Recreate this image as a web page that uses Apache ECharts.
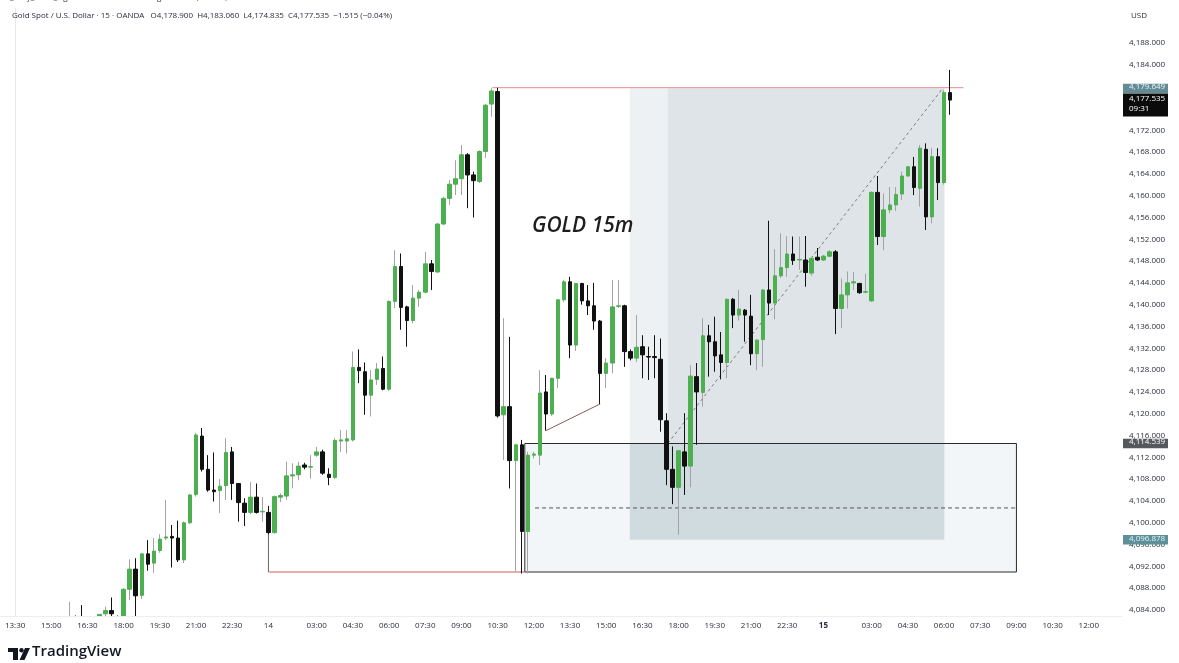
<!DOCTYPE html>
<html><head><meta charset="utf-8">
<script src="https://cdn.jsdelivr.net/npm/echarts@6/dist/echarts.min.js"></script>
<style>html,body{margin:0;padding:0;background:#fff}#c{width:1179px;height:663px}</style>
</head><body><div id="c"></div>
<script>
// ---------- DATA ----------
const firstBar = 9; // bar index of the first candle (bar 0 = 13:30 on Oct 13)
const opens = [4080.5,4082.5,4080.5,4079.8,4081.2,4080.0,4083.3,4083.9,4082.8,4082.5,4087.8,4091.5,4086.7,4094.3,4092.6,4094.9,4097.2,4097.5,4097.2,4093.2,4100.0,4105.2,4115.9,4109.8,4106.0,4105.9,4106.8,4113.0,4107.2,4103.6,4101.9,4104.7,4102.0,4101.9,4098.2,4104.7,4104.9,4108.6,4108.8,4110.6,4110.2,4112.4,4113.0,4108.9,4108.3,4115.0,4115.0,4115.2,4128.5,4127.7,4123.4,4126.3,4128.3,4124.5,4140.6,4147.0,4139.6,4137.1,4141.2,4142.3,4147.5,4146.0,4154.8,4159.5,4162.1,4163.1,4167.5,4163.8,4162.6,4168.1,4176.8,4179.1,4119.8,4121.3,4111.4,4114.3,4098.4,4112.4,4112.4,4124.0,4119.95,4126.5,4140.9,4144.2,4132.6,4143.9,4140.7,4139.8,4137.0,4127.4,4129.3,4139.7,4139.8,4131.4,4130.2,4132.3,4130.5,4130.5,4130.0,4118.7,4109.8,4106.5,4113.0,4110.4,4126.8,4123.9,4134.3,4133.2,4130.8,4129.4,4141.0,4138.1,4139.0,4137.9,4131.0,4133.6,4142.7,4140.3,4145.3,4146.8,4149.3,4148.2,4148.2,4145.8,4148.7,4148.2,4148.9,4149.7,4139.3,4141.8,4144.0,4143.9,4142.3,4140.7,4160.6,4152.5,4157.4,4158.3,4160.3,4163.6,4165.3,4161.35,4168.5,4156.1,4167.15,4162.4,4178.9];
const highs = [4085.5,4083.0,4084.9,4082.0,4082.6,4082.8,4084.6,4086.3,4083.0,4088.0,4093.3,4093.5,4094.5,4096.8,4097.2,4097.9,4104.2,4099.6,4100.4,4100.2,4105.3,4116.5,4117.4,4112.4,4112.9,4108.0,4115.5,4113.9,4107.3,4104.5,4107.5,4107.2,4104.7,4103.1,4105.0,4105.4,4111.2,4110.9,4111.2,4111.0,4112.4,4113.9,4113.4,4110.0,4115.5,4117.0,4117.0,4131.4,4131.8,4129.4,4128.0,4129.3,4130.5,4140.8,4150.0,4149.4,4139.8,4143.6,4142.7,4149.7,4148.2,4155.0,4159.8,4162.9,4166.5,4169.3,4167.8,4164.4,4168.3,4176.8,4179.7,4179.8,4137.5,4134.1,4114.5,4115.2,4113.0,4113.0,4128.0,4127.1,4126.6,4141.0,4144.5,4145.1,4143.9,4144.0,4143.6,4144.0,4137.2,4130.2,4144.5,4144.5,4140.0,4131.8,4138.1,4134.4,4132.3,4134.4,4133.8,4120.1,4114.0,4113.4,4120.1,4128.9,4129.3,4137.5,4136.3,4137.8,4135.0,4141.1,4141.2,4142.7,4139.2,4141.8,4133.7,4142.9,4155.4,4150.2,4153.1,4152.6,4152.5,4152.5,4152.6,4148.8,4150.4,4149.1,4150.0,4150.0,4144.8,4146.1,4146.0,4144.0,4145.7,4160.8,4163.6,4160.4,4161.6,4161.6,4164.4,4165.4,4167.1,4169.3,4169.6,4168.7,4168.7,4179.4,4183.06];
const lows = [4079.5,4079.0,4078.5,4078.0,4079.2,4079.0,4082.5,4081.0,4080.2,4081.5,4085.8,4082.5,4086.0,4091.2,4090.8,4094.5,4096.8,4091.8,4092.8,4092.6,4099.8,4104.8,4109.4,4105.7,4103.9,4101.8,4104.2,4104.2,4100.2,4099.4,4101.6,4101.7,4100.2,4097.9,4098.0,4103.8,4104.2,4106.3,4107.8,4109.8,4108.1,4112.1,4108.8,4106.9,4108.0,4113.0,4112.7,4114.9,4125.6,4119.8,4119.5,4125.3,4124.3,4124.2,4139.4,4135.4,4132.3,4136.6,4139.6,4142.1,4142.7,4145.8,4154.6,4158.3,4160.1,4160.1,4157.7,4156.0,4162.3,4166.9,4174.5,4119.3,4111.5,4106.3,4091.0,4090.7,4090.7,4111.8,4110.6,4116.9,4119.6,4124.7,4140.5,4130.2,4131.5,4140.0,4138.1,4135.4,4121.8,4124.7,4127.4,4139.4,4128.6,4129.8,4129.5,4126.5,4126.2,4126.5,4116.7,4106.9,4103.4,4097.8,4105.1,4106.5,4114.3,4121.3,4126.8,4127.7,4126.3,4126.5,4135.7,4137.1,4133.2,4128.9,4128.0,4128.6,4138.1,4137.3,4144.9,4145.1,4147.3,4146.4,4143.3,4145.3,4148.0,4148.0,4148.7,4134.6,4135.7,4139.3,4142.7,4142.0,4142.1,4140.5,4150.95,4150.0,4156.8,4157.2,4159.2,4163.5,4160.1,4158.0,4153.7,4154.9,4159.2,4162.0,4174.835];
const closes = [4082.5,4080.5,4079.8,4081.2,4080.0,4083.2,4083.9,4083.3,4081.0,4087.8,4091.5,4086.6,4094.3,4092.4,4094.8,4097.0,4097.4,4097.2,4093.2,4100.0,4105.1,4116.1,4109.8,4106.0,4105.7,4106.7,4112.9,4107.2,4103.7,4101.9,4104.7,4101.9,4102.1,4098.2,4104.8,4105.0,4108.6,4108.8,4110.4,4110.2,4110.3,4113.0,4109.1,4108.3,4115.1,4115.2,4115.4,4128.5,4127.9,4123.4,4126.2,4128.2,4124.5,4140.6,4147.0,4139.5,4137.1,4141.2,4142.3,4147.5,4146.1,4154.8,4159.5,4162.1,4163.1,4167.5,4163.8,4162.75,4168.1,4176.6,4179.2,4119.6,4121.3,4111.4,4114.3,4098.4,4112.4,4112.6,4123.8,4119.95,4126.5,4140.9,4144.2,4132.6,4143.9,4140.7,4139.8,4137.0,4127.4,4129.3,4139.6,4139.8,4131.4,4130.2,4132.2,4130.8,4130.4,4130.3,4118.9,4109.8,4106.5,4113.2,4110.4,4126.9,4124.0,4134.3,4133.2,4130.6,4129.4,4141.0,4138.1,4139.2,4138.1,4131.0,4133.5,4142.7,4140.3,4145.3,4146.8,4149.3,4148.1,4148.3,4145.9,4148.5,4148.2,4148.9,4149.7,4139.3,4141.8,4144.0,4144.2,4142.2,4142.4,4160.6,4152.5,4157.4,4158.3,4160.2,4163.6,4165.3,4161.5,4168.7,4156.1,4167.15,4162.4,4178.9,4177.535];

const yTickValues = [4084,4088,4092,4096,4100,4104,4108,4112,4116,4120,4124,4128,4132,4136,4140,4144,4148,4152,4156,4160,4164,4168,4172,4176,4180,4184,4188];
const xTickLabels = ['13:30','15:00','16:30','18:00','19:30','21:00','22:30','14','03:00','04:30','06:00','07:30','09:00','10:30','12:00','13:30','15:00','16:30','18:00','19:30','21:00','22:30','15','03:00','04:30','06:00','07:30','09:00','10:30','12:00'];
const boldTickLabels = ['15'];

// drawings (bar index, price)
const longPos = { startBar: 101.9, fillBar: 108.2, endBar: 154.05, target: 4179.649, entry: 4114.539, stop: 4096.878 };
const box = { startBar: 84.5, endBar: 166.0, top: 4114.539, bottom: 4090.97, mid: 4102.72, midStart: 86.2 };
const topLine = { startBar: 79.1, endBar: 157.2, price: 4179.8 };
const lowLine = { bar: 42, endBar: 84.5, from: 4098.2, price: 4090.97 };
const trendLine = [[88, 4116.9], [97, 4121.8]];
const tagValues = [4179.649, 4177.535, 4114.539, 4096.878];
const tagTexts = ['4,179.649', '4,177.535', '4,114.539', '4,096.878'];
const countdown = '09:31';
const headerText = 'Gold Spot / U.S. Dollar · 15 · OANDA   O4,178.900  H4,183.060  L4,174.835  C4,177.535  −1.515 (−0.04%)';
const creditText = 'i.t_daily_forex_signals created with TradingView.com, Oct 15, 2025 06:20 UTC+3';

// ---------- BAR TIMELINE (for axis labels) ----------
const barText = {};
(function () {
  let day = 13, h = 13, m = 0, newDay = false;
  for (let i = -2; i <= 190; i++) {
    barText[i] = newDay ? String(day) : (String(h).padStart(2, '0') + ':' + String(m).padStart(2, '0'));
    newDay = false;
    m += 15; if (m === 60) { m = 0; h++; }
    if (h === 24) { h = 1; day++; newDay = true; }
  }
})();
const xTickIdx = []; const idxLabel = {};
(function () {
  let from = -2;
  xTickLabels.forEach(t => {
    for (let i = from; i <= 190; i++) {
      if (barText[i] === t) { xTickIdx.push(i); idxLabel[i] = t; from = i + 1; break; }
    }
  });
})();

const wickData = [], bodyData = [];
opens.forEach((o, k) => {
  const i = firstBar + k, c = closes[k];
  wickData.push([i, o, c, lows[k], highs[k]]);
  bodyData.push([i, o, c, Math.min(o, c), Math.max(o, c)]);
});

function fmt(v) {
  const s = v.toFixed(3).split('.');
  return s[0].replace(/\B(?=(\d{3})+(?!\d))/g, ',') + '.' + s[1];
}

const FONT = 'Open Sans';
const GREEN = '#4caf50';

function lineSeries(points, color, type, width) {
  return {
    type: 'line', data: points, symbol: 'none', silent: true, z: 2, animation: false, clip: true,
    lineStyle: { color: color, width: width || 1, type: type || 'solid' }
  };
}

const chart = echarts.init(document.getElementById('c'), null, { renderer: 'canvas' });
const option = {
  animation: false,
  backgroundColor: '#ffffff',
  grid: { left: 0, right: 57, top: 8, bottom: 47, containLabel: false },
  xAxis: {
    type: 'value', min: -2.5, max: 183.5, z: 20,
    axisLine: { show: true, lineStyle: { color: '#eeeeee' } },
    axisTick: { show: false },
    splitLine: { show: false },
    axisLabel: {
      customValues: xTickIdx, margin: 6, color: '#2a2e39', fontSize: 8, fontFamily: FONT,
      formatter: v => { const t = idxLabel[v] || ''; return boldTickLabels.indexOf(t) >= 0 ? '{b|' + t + '}' : t; },
      rich: { b: { fontWeight: 'bold', fontSize: 8, fontFamily: FONT, color: '#2a2e39' } }
    }
  },
  yAxis: {
    type: 'value', position: 'right', min: 4082.9, max: 4194.42, scale: true, z: 20,
    axisLine: { show: true, lineStyle: { color: '#e6e6e6' } },
    axisTick: { show: false },
    splitLine: { show: false },
    axisLabel: { customValues: yTickValues, margin: 7, color: '#2a2e39', fontSize: 8, fontFamily: FONT, formatter: v => fmt(v) }
  },
  series: [
    {
      type: 'line', data: [], silent: true, z: 1,
      markArea: {
        silent: true,
        data: [
          [{ coord: [box.startBar, box.top], itemStyle: { color: '#f3f6f8' } }, { coord: [box.endBar, box.bottom] }],
          [{ coord: [longPos.startBar, longPos.target], itemStyle: { color: '#edf1f3' } }, { coord: [longPos.endBar, longPos.entry] }],
          [{ coord: [longPos.fillBar, longPos.target], itemStyle: { color: '#dfe4e8' } }, { coord: [longPos.endBar, longPos.entry] }],
          [{ coord: [longPos.startBar, longPos.entry], itemStyle: { color: '#d0dbe0' } }, { coord: [longPos.endBar, longPos.stop] }],
          [{ coord: [box.startBar, box.top], itemStyle: { color: 'rgba(0,0,0,0)', borderColor: '#2b2b2b', borderWidth: 1 } }, { coord: [box.endBar, box.bottom] }]
        ]
      }
    },
    lineSeries([[topLine.startBar, topLine.price], [topLine.endBar, topLine.price]], '#e48b8b'),
    lineSeries([[lowLine.bar, lowLine.from], [lowLine.bar, lowLine.price]], '#666666'),
    lineSeries([[lowLine.bar, lowLine.price], [lowLine.endBar, lowLine.price]], '#d65a5a'),
    lineSeries(trendLine, '#8a5c5c'),
    lineSeries([[box.midStart, box.mid], [box.endBar, box.mid]], '#555555', [4, 3]),
    lineSeries([[longPos.fillBar, longPos.entry], [longPos.endBar - 0.3, longPos.target]], '#7d7d7d', [3, 3]),
    {
      type: 'candlestick', data: wickData, z: 3, barWidth: 0.6, silent: true, clip: true,
      encode: { x: 0, y: [1, 2, 3, 4] },
      itemStyle: { color: 'rgba(0,0,0,0)', color0: 'rgba(0,0,0,0)', borderColor: '#a3a3a3', borderColor0: '#111111', borderWidth: 1 }
    },
    {
      type: 'candlestick', data: bodyData, z: 4, barWidth: 4, silent: true, clip: true,
      encode: { x: 0, y: [1, 2, 3, 4] },
      itemStyle: { color: GREEN, color0: '#111111', borderColor: GREEN, borderColor0: '#111111', borderWidth: 1 }
    }
  ]
};
chart.setOption(option);

// ---------- ANNOTATIONS ----------
const gfx = [];
// white band under the plot so candles that run past the bottom edge are cut there
const gridBottomPx = chart.convertToPixel({ yAxisIndex: 0 }, 4082.9);
gfx.push({ type: 'rect', z: 10, silent: true, shape: { x: 0, y: gridBottomPx + 0.5, width: 1121.5, height: 40 }, style: { fill: '#ffffff' } });
gfx.push({ type: 'text', left: 3, top: -6, z: 100, style: { text: creditText, font: '8px "' + FONT + '"', fill: '#333' } });
gfx.push({ type: 'text', left: 12, top: 12, z: 100, style: { text: headerText, font: '8px "' + FONT + '"', fill: '#2a2e39' } });
gfx.push({ type: 'text', left: 1131, top: 12, z: 100, style: { text: 'USD', font: '8px "' + FONT + '"', fill: '#2a2e39' } });
gfx.push({ type: 'text', left: 532, top: 216, z: 100, style: { text: 'GOLD 15m', font: 'italic 600 21px "' + FONT + '"', fill: '#1e1e1e' } });
// TradingView logo
gfx.push({ type: 'rect', z: 100, shape: { x: 8, y: 648, width: 10, height: 4 }, style: { fill: '#131722' } });
gfx.push({ type: 'rect', z: 100, shape: { x: 13, y: 648, width: 5, height: 12 }, style: { fill: '#131722' } });
gfx.push({ type: 'circle', z: 100, shape: { cx: 21.5, cy: 650.2, r: 2.2 }, style: { fill: '#131722' } });
gfx.push({ type: 'polygon', z: 100, shape: { points: [[25, 648], [30, 648], [24.5, 660], [19.5, 660]] }, style: { fill: '#131722' } });
gfx.push({ type: 'text', left: 32, top: 644, z: 100, style: { text: 'TradingView', font: '600 15px "' + FONT + '"', fill: '#131722' } });

const tagStyles = [
  { bg: '#648b95', fg: '#e6f6f9' },
  { bg: '#0b0b0b', fg: '#ffffff' },
  { bg: '#55585d', fg: '#ffffff' },
  { bg: '#5f8f99', fg: '#dff5f8' }
];
tagValues.forEach((v, k) => {
  const y = chart.convertToPixel({ yAxisIndex: 0 }, v);
  const st = tagStyles[k];
  const h = k === 1 ? 23 : 9.5;
  const top = k === 1 ? y - 6.5 : y - 4.75;
  gfx.push({ type: 'rect', z: 110, shape: { x: 1123, y: top, width: 45, height: h }, style: { fill: st.bg } });
  gfx.push({ type: 'text', z: 111, left: 1129, top: y - 5.5, style: { text: tagTexts[k], font: '8px "' + FONT + '"', fill: st.fg } });
  if (k === 1) gfx.push({ type: 'text', z: 111, left: 1129, top: y + 4.5, style: { text: countdown, font: '8px "' + FONT + '"', fill: st.fg } });
});
chart.setOption({ graphic: gfx });
</script></body></html>
